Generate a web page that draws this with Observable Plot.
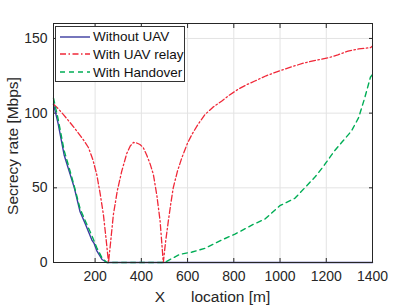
<!DOCTYPE html>
<html>
<head>
<meta charset="utf-8">
<script src="https://cdn.jsdelivr.net/npm/d3@7"></script>
<script src="https://cdn.jsdelivr.net/npm/@observablehq/plot@0.6"></script>
<style>
  html, body { margin: 0; padding: 0; background: #fff; }
  #wrap { position: relative; width: 411px; height: 308px; font-family: "Liberation Sans", Arial, sans-serif; }
  #legend { position: absolute; left: 55px; top: 26px; width: 128px; height: 54px; border: 1px solid #333; background: #fff; font-size: 13.5px; color: #111; }
  #legend .row { position: absolute; left: 0; height: 18px; display: flex; align-items: center; white-space: nowrap; }
  #legend svg { margin-left: 4px; margin-right: 3px; }
</style>
</head>
<body>
<div id="wrap"></div>
<script>
// Data
const xWithout = [20, 40, 66, 92, 110, 135, 160, 186, 195, 207, 230, 251, 400, 600, 800, 1000, 1200, 1400];
const yWithout = [106, 93, 72, 59, 50, 34, 25, 15, 13, 8, 2, 0, 0, 0, 0, 0, 0, 0];

const xRelay = [20, 40, 63, 90, 121, 150, 171, 190, 207, 222, 236, 248, 258, 268, 279, 296, 315, 337, 352, 366, 380, 394, 408, 423, 438, 452, 467, 481, 495, 505, 517, 528, 538, 556, 575, 600, 620, 646, 675, 710, 747, 780, 819, 855, 891, 940, 992, 1050, 1107, 1160, 1208, 1250, 1294, 1340, 1391, 1400];
const yRelay = [106, 103, 99, 94, 88, 82, 77, 69, 59, 46, 32, 15, 0, 15, 32, 48, 61, 73, 78, 80.4, 80, 79, 77, 72, 66, 59, 45, 28, 0, 14, 28, 40, 50, 61, 70, 80, 86, 92.7, 99, 104, 108, 112, 116, 119, 121.5, 125, 128, 131, 133.7, 135.5, 137, 139, 141.5, 143, 143.8, 145];

const xHandover = [20, 40, 66, 92, 110, 135, 160, 186, 207, 230, 251, 400, 500, 567, 620, 675, 747, 805, 884, 934, 999, 1064, 1107, 1150, 1186, 1223, 1237, 1270, 1309, 1340, 1366, 1391, 1400];
const yHandover = [110, 96, 75, 61, 51, 36, 27, 18, 10, 3, 0, 0, 0, 5.5, 7, 9.5, 15, 19, 25.5, 29, 38, 43, 50, 57, 64, 72, 75, 81, 88, 97, 110, 124, 126];

const xTicks = [200, 400, 600, 800, 1000, 1200, 1400];
const yTicks = [0, 50, 100, 150];

const seriesNames = ["Without UAV", "With UAV relay", "With Handover"];
const seriesColors = ["#3c3ca0", "#f02838", "#00ad55"];
const seriesDash = [null, "6,2.5,1.5,2.5", "5,4"];

const toRows = (xs, ys) => xs.map((x, i) => ({x, y: ys[i]}));
const rowsWithout = toRows(xWithout, yWithout);
const rowsRelay = toRows(xRelay, yRelay);
const rowsHandover = toRows(xHandover, yHandover);

const gridColor = "#e3e3e3";
const axisColor = "#262626";
const font = "Liberation Sans, Arial, sans-serif";

const chart = Plot.plot({
  width: 411,
  height: 308,
  marginLeft: 53,
  marginRight: 39,
  marginTop: 23,
  marginBottom: 46,
  style: {fontFamily: font, background: "#fff", overflow: "visible"},
  x: {domain: [20, 1400]},
  y: {domain: [0, 160]},
  marks: [
    Plot.gridX(xTicks, {stroke: gridColor, strokeOpacity: 1, strokeWidth: 1}),
    Plot.gridY(yTicks, {stroke: gridColor, strokeOpacity: 1, strokeWidth: 1}),
    // tick labels
    Plot.axisX(xTicks, {anchor: "bottom", tickSize: 0, tickPadding: 9, fontSize: 14, fill: axisColor, label: null, tickFormat: d => String(d)}),
    Plot.axisY(yTicks, {anchor: "left", tickSize: 0, tickPadding: 6, fontSize: 14, fill: axisColor, label: null, tickFormat: d => String(d)}),
    // inward ticks on all four sides
    Plot.axisX(xTicks, {anchor: "bottom", tickSize: -4, tickFormat: () => "", stroke: axisColor, label: null}),
    Plot.axisX(xTicks, {anchor: "top", tickSize: -4, tickFormat: () => "", stroke: axisColor, label: null}),
    Plot.axisY(yTicks, {anchor: "left", tickSize: -4, tickFormat: () => "", stroke: axisColor, label: null}),
    Plot.axisY(yTicks, {anchor: "right", tickSize: -4, tickFormat: () => "", stroke: axisColor, label: null}),
    Plot.line(rowsWithout, {x: "x", y: "y", stroke: seriesColors[0], strokeWidth: 1.4, curve: "linear"}),
    Plot.line(rowsRelay, {x: "x", y: "y", stroke: seriesColors[1], strokeWidth: 1.3, strokeDasharray: seriesDash[1], curve: "linear"}),
    Plot.line(rowsHandover, {x: "x", y: "y", stroke: seriesColors[2], strokeWidth: 1.4, strokeDasharray: seriesDash[2], curve: "linear"}),
    Plot.frame({stroke: axisColor, strokeWidth: 1})
  ]
});

const wrap = document.getElementById("wrap");
wrap.appendChild(chart);

// axis labels
const svg = d3.select(chart);
svg.append("text")
  .attr("x", 212.5).attr("y", 302)
  .attr("text-anchor", "middle")
  .style("white-space", "pre")
  .attr("xml:space", "preserve")
  .attr("font-size", 15.5).attr("fill", axisColor).attr("font-family", font)
  .text("X      location [m]");
svg.append("text")
  .attr("transform", "translate(18,146) rotate(-90)")
  .attr("text-anchor", "middle")
  .attr("font-size", 15.5).attr("fill", axisColor).attr("font-family", font)
  .text("Secrecy rate [Mbps]");

// legend
const legend = document.createElement("div");
legend.id = "legend";
seriesNames.forEach((name, i) => {
  const row = document.createElement("div");
  row.className = "row";
  row.style.top = (0.5 + i * 17.8) + "px";
  const s = d3.create("svg").attr("width", 30).attr("height", 10);
  s.append("line").attr("x1", 0).attr("x2", 30).attr("y1", 5).attr("y2", 5)
    .attr("stroke", seriesColors[i]).attr("stroke-width", 1.4)
    .attr("stroke-dasharray", seriesDash[i]);
  row.appendChild(s.node());
  const t = document.createElement("span");
  t.textContent = name;
  row.appendChild(t);
  legend.appendChild(row);
});
wrap.appendChild(legend);
</script>
</body>
</html>
